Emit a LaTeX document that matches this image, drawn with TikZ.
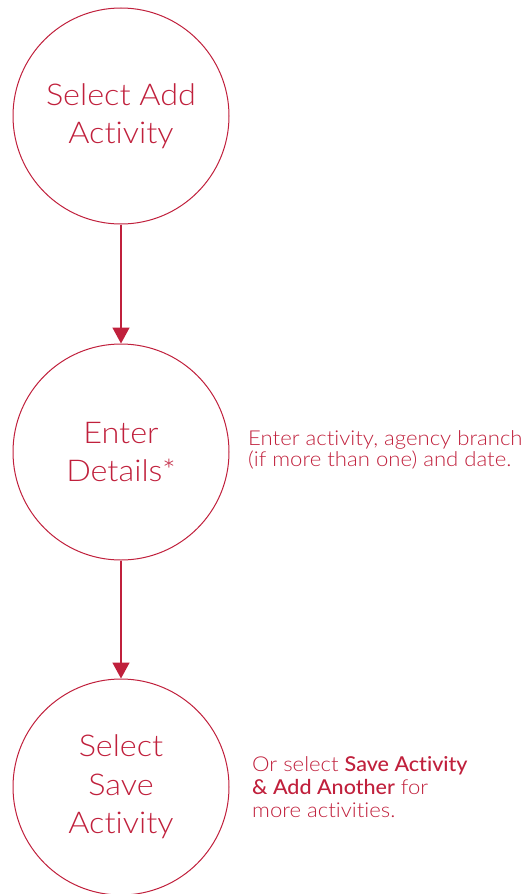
\documentclass[tikz,border=0pt]{standalone}
\usepackage{fontspec}
\usetikzlibrary{arrows.meta}
\newfontfamily\thinfont{Lato Light}[FakeStretch=1.08, RawFeature={-liga;-dlig;-clig}]
\newfontfamily\midfont{Lato Medium}[FakeStretch=1.05, RawFeature={-liga;-dlig;-clig}]
\definecolor{crimson}{RGB}{192,32,60}
\tikzset{
  stepcircle/.style={circle, draw=crimson, line width=1pt, minimum size=216pt,
    inner sep=0pt, align=center, text=crimson,
    font=\thinfont\fontsize{30}{38.5}\selectfont},
  note/.style={anchor=west, align=left, text=crimson, inner sep=0pt},
  flow/.style={draw=crimson, line width=1.6pt,
    -{Triangle[length=16pt,width=17pt]}},
}
\begin{document}
\begin{tikzpicture}[x=1pt,y=-1pt]
  \useasboundingbox (0,0) rectangle (527,894);
  \node[stepcircle] (add) at (121,116) {Select Add\\Activity};
  \node[stepcircle] (details) at (121,452) {Enter\\Details*};
  \node[stepcircle] (save) at (121,787) {Select\\Save\\Activity};
  \draw[flow] (add) -- (details);
  \draw[flow] (details) -- (save);
  \node[note, font=\thinfont\fontsize{20.5}{21}\selectfont] (detailsnote) at (248,450)
    {Enter activity, agency branch\\(if more than one) and date.};
  \node[note, font=\thinfont\fontsize{20.5}{23}\selectfont] (savenote) at (252,787)
    {Or select {\midfont Save Activity}\\{\midfont\& Add Another} for\\more activities.};
\end{tikzpicture}
\end{document}
